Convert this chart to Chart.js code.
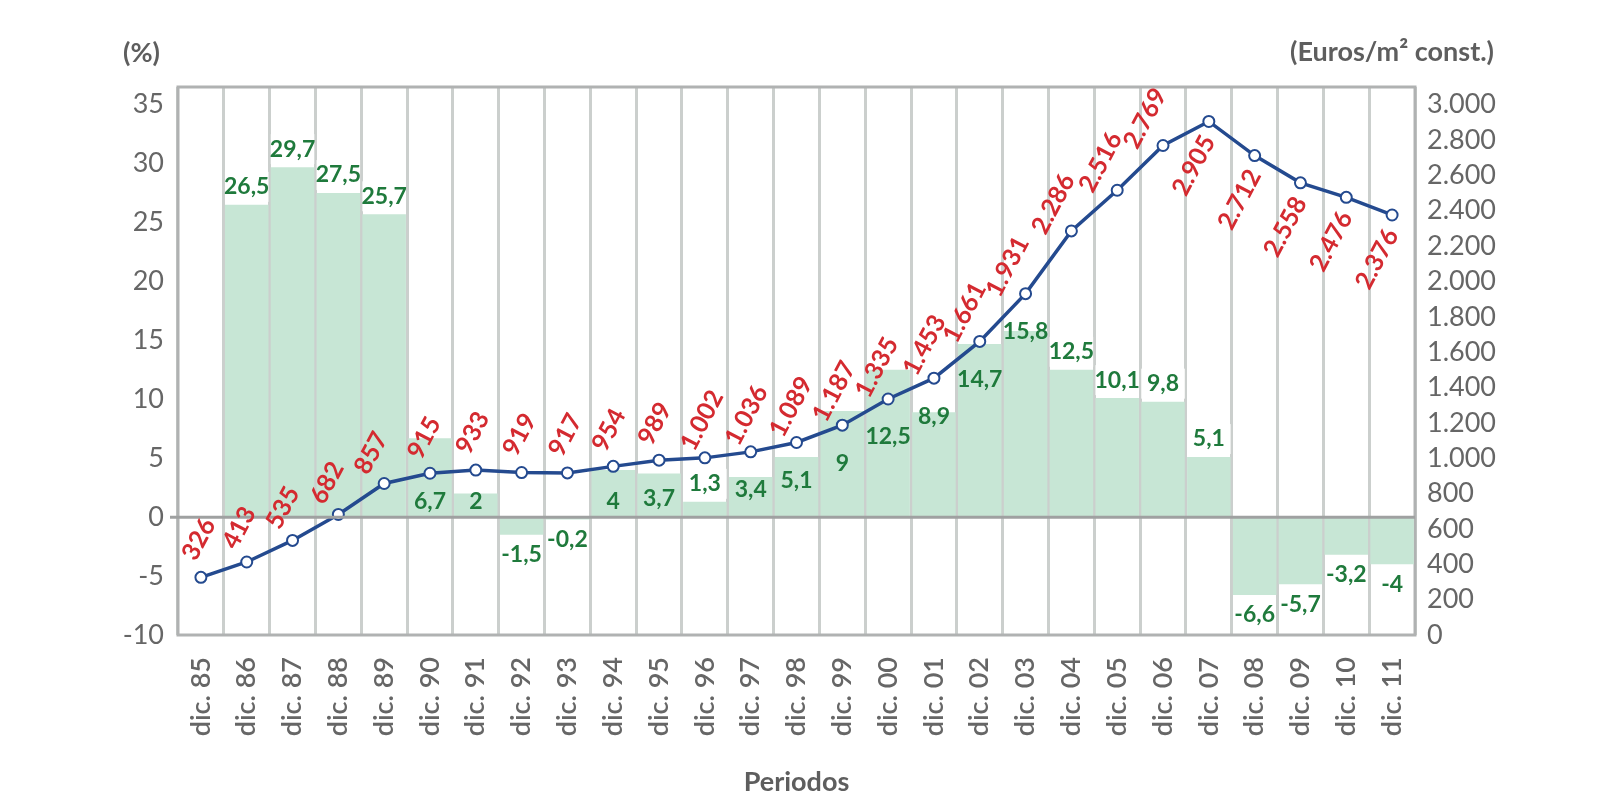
<!DOCTYPE html>
<html><head><meta charset="utf-8">
<script src="https://cdn.jsdelivr.net/npm/chart.js@4.4.1/dist/chart.umd.min.js"></script>
<style>html,body{margin:0;background:#fff}#wrap{width:1600px;height:800px}</style>
</head><body><div id="wrap"><canvas id="c" width="1600" height="800"></canvas></div>
<script>
const categories = ['dic. 85','dic. 86','dic. 87','dic. 88','dic. 89','dic. 90','dic. 91','dic. 92','dic. 93','dic. 94','dic. 95','dic. 96','dic. 97','dic. 98','dic. 99','dic. 00','dic. 01','dic. 02','dic. 03','dic. 04','dic. 05','dic. 06','dic. 07','dic. 08','dic. 09','dic. 10','dic. 11'];
const variacionPct = [null, 26.5, 29.7, 27.5, 25.7, 6.7, 2, -1.5, -0.2, 4, 3.7, 1.3, 3.4, 5.1, 9, 12.5, 8.9, 14.7, 15.8, 12.5, 10.1, 9.8, 5.1, -6.6, -5.7, -3.2, -4];
const precioEuros = [326, 413, 535, 682, 857, 915, 933, 919, 917, 954, 989, 1002, 1036, 1089, 1187, 1335, 1453, 1661, 1931, 2286, 2516, 2769, 2905, 2712, 2558, 2476, 2376];
const leftTicks = [-10, -5, 0, 5, 10, 15, 20, 25, 30, 35];
const rightTicks = [0, 200, 400, 600, 800, 1000, 1200, 1400, 1600, 1800, 2000, 2200, 2400, 2600, 2800, 3000];
const leftTitle = '(%)';
const rightTitle = '(Euros/m\u00B2 const.)';
const xTitle = 'Periodos';

function fmtThousands(v){ return v >= 1000 ? Math.floor(v/1000) + '.' + String(v % 1000).padStart(3,'0') : String(v); }
function fmtPct(v){ return String(v).replace('.', ','); }

const GREY_TXT = '#666666';
const FONT = 'Lato';

const framePlugin = {
  id: 'frame',
  beforeDatasetsDraw(chart){
    const {ctx, chartArea: a} = chart;
    ctx.save();
    ctx.strokeStyle = '#b0b2b2'; ctx.lineWidth = 3;
    ctx.strokeRect(a.left, a.top, a.right - a.left, a.bottom - a.top);
    ctx.restore();
  },
  afterDatasetsDraw(chart){
    const {ctx, chartArea: a} = chart;
    const y0 = chart.scales.y.getPixelForValue(0);
    ctx.save();
    ctx.strokeStyle = '#9fa1a1'; ctx.lineWidth = 3;
    ctx.beginPath(); ctx.moveTo(a.left - 8, y0); ctx.lineTo(a.right, y0); ctx.stroke();
    ctx.restore();
  }
};

function isBelow(chart, lineMeta, i){
  const pt = lineMeta.data[i];
  const prev = i > 0 ? lineMeta.data[i-1].y : pt.y;
  if (pt.y - prev > 8) return true;            // clearly falling
  return (pt.y - 36) < chart.chartArea.top + 12; // no room above
}

const labelPlugin = {
  id: 'valueLabels',
  afterDatasetsDraw(chart){
    const ctx = chart.ctx;
    const barMeta = chart.getDatasetMeta(0), lineMeta = chart.getDatasetMeta(1);
    ctx.save();
    ctx.textAlign = 'center'; ctx.textBaseline = 'middle';
    ctx.font = 'bold 23px ' + FONT;
    variacionPct.forEach((v, i) => {
      if (v == null) return;
      const bar = barMeta.data[i], pt = lineMeta.data[i];
      const below = isBelow(chart, lineMeta, i);
      let y, box = false;
      if (v >= 0) {
        const yg = bar.y - 18;
        const rTop = below ? pt.y : pt.y - 70, rBot = below ? pt.y + 75 : pt.y;
        const conflict = (yg + 12 > rTop && yg - 12 < rBot) || Math.abs(yg - pt.y) < 24;
        if (conflict) { y = Math.min(pt.y + 38, bar.base - 16); }
        else { y = yg; box = true; }
      } else {
        y = bar.y + 20;
      }
      if (box) { ctx.fillStyle = '#ffffff'; ctx.fillRect(bar.x - bar.width/2, y - 15, bar.width, 30); }
      ctx.fillStyle = '#1f7a3c';
      ctx.fillText(fmtPct(v), bar.x, y);
    });
    ctx.font = 'bold 25px ' + FONT;
    ctx.fillStyle = '#d42a30';
    precioEuros.forEach((v, i) => {
      const pt = lineMeta.data[i];
      let cx, cy;
      if (isBelow(chart, lineMeta, i)) { cx = pt.x - 15; cy = pt.y + 44; }
      else {
        const prev = i > 0 ? lineMeta.data[i-1].y : pt.y;
        const steep = Math.min(1, Math.max(0, (prev - pt.y) / 45));
        cx = pt.x - 2 - 16 * steep; cy = pt.y - 38 + 11 * steep;
        cy = Math.max(cy, chart.chartArea.top + 24);
      }
      ctx.save();
      ctx.translate(cx, cy); ctx.rotate(-62 * Math.PI / 180);
      ctx.fillText(fmtThousands(v), 0, 0);
      ctx.restore();
    });
    ctx.restore();
  },
  afterDraw(chart){
    const ctx = chart.ctx;
    ctx.save();
    ctx.fillStyle = '#5e5e5e';
    ctx.font = 'bold 27px ' + FONT;
    ctx.textBaseline = 'middle';
    ctx.textAlign = 'left';
    ctx.fillText(leftTitle, 123, 53);
    ctx.textAlign = 'right';
    ctx.fillText(rightTitle, 1494, 52);
    ctx.restore();
  }
};

new Chart(document.getElementById('c'), {
  data: {
    labels: categories,
    datasets: [
      { type: 'bar', label: 'Variación (%)', data: variacionPct, yAxisID: 'y', order: 2,
        backgroundColor: '#c7e6d5', borderWidth: 0, barPercentage: 0.95, categoryPercentage: 1.0 },
      { type: 'line', label: 'Euros/m²', data: precioEuros, yAxisID: 'y1', order: 1,
        borderColor: '#244a8f', borderWidth: 3.5, tension: 0,
        pointRadius: 5.5, pointBackgroundColor: '#ffffff', pointBorderColor: '#244a8f', pointBorderWidth: 2 }
    ]
  },
  options: {
    responsive: false, animation: false, devicePixelRatio: 1,
    layout: { padding: { top: 87, left: 0, right: 0, bottom: 0 } },
    plugins: { legend: { display: false }, tooltip: { enabled: false } },
    scales: {
      x: {
        offset: true,
        grid: { display: true, offset: true, color: '#cbcfcd', lineWidth: 3, drawTicks: false },
        border: { display: false },
        ticks: { autoSkip: false, maxRotation: 90, minRotation: 90, padding: 22, color: GREY_TXT, font: { family: FONT, size: 27, weight: '600' } },
        title: { display: true, text: xTitle, color: '#5e5e5e', font: { family: FONT, size: 27, weight: 'bold' }, padding: { top: 0, bottom: 2 } },
        afterFit(s){ s.height = 165; }
      },
      y: {
        position: 'left', min: -10, max: 36.5,
        afterBuildTicks(s){ s.ticks = leftTicks.map(v => ({ value: v })); },
        grid: { display: false, drawTicks: false },
        border: { display: false },
        ticks: { padding: 14, color: GREY_TXT, font: { family: FONT, size: 27 }, callback: v => String(v) },
        afterFit(s){ s.width = 178; }
      },
      y1: {
        position: 'right', min: 0, max: 3100,
        afterBuildTicks(s){ s.ticks = rightTicks.map(v => ({ value: v })); },
        grid: { display: false, drawTicks: false },
        border: { display: false },
        ticks: { padding: 12, color: GREY_TXT, font: { family: FONT, size: 27 }, callback: v => fmtThousands(v) },
        afterFit(s){ s.width = 185; }
      }
    }
  },
  plugins: [framePlugin, labelPlugin]
});
</script></body></html>
